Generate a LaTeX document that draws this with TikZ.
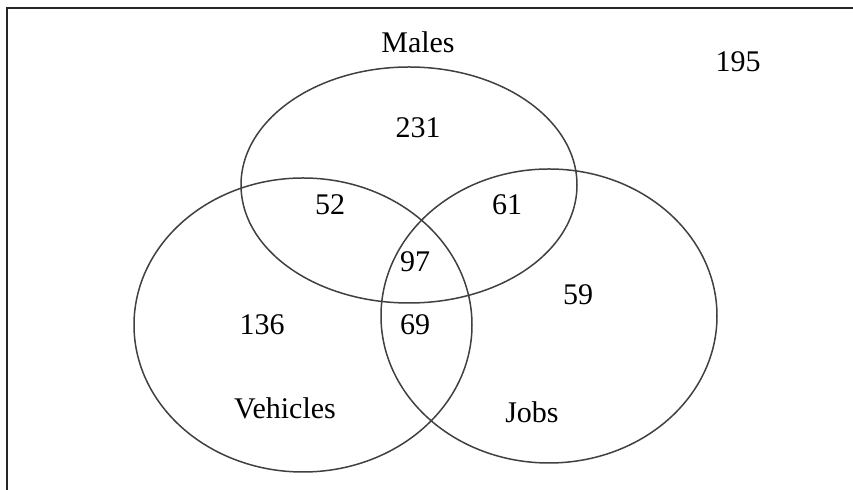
\documentclass[tikz,border=0pt]{standalone}
\usepackage{fontspec}
\setmainfont{Liberation Serif}
\usepackage{xcolor}

\tikzset{
  venn/.style={draw=black!75, line width=0.75pt},
  lbl/.style={inner sep=0pt, font=\fontsize{15}{18}\selectfont}
}

\begin{document}
\begin{tikzpicture}[x=0.5pt,y=-0.5pt]
  \useasboundingbox (0,0) rectangle (853,490);
  % frame
  \draw[line width=1pt, black!85] (7,490) -- (7,8) -- (853,8);
  % the three sets
  \draw[venn] (409,185) ellipse [x radius=84pt, y radius=59pt];
  \draw[venn] (303,325) ellipse [x radius=84.5pt, y radius=73.5pt];
  \draw[venn] (549,316) ellipse [x radius=84pt, y radius=73.5pt];
  % labels and counts
  \node[lbl] (males) at (418,42) {Males};
  \node[lbl] (vehicles) at (285,408) {Vehicles};
  \node[lbl] (jobs) at (532,412) {Jobs};
  \node[lbl] (outside) at (738,62) {195};
  \node[lbl] (monly) at (418,128) {231};
  \node[lbl] (mv) at (330,205) {52};
  \node[lbl] (mj) at (507,205) {61};
  \node[lbl] (mvj) at (415,262) {97};
  \node[lbl] (jonly) at (578,295) {59};
  \node[lbl] (vonly) at (262,325) {136};
  \node[lbl] (vj) at (415,325) {69};
\end{tikzpicture}
\end{document}
